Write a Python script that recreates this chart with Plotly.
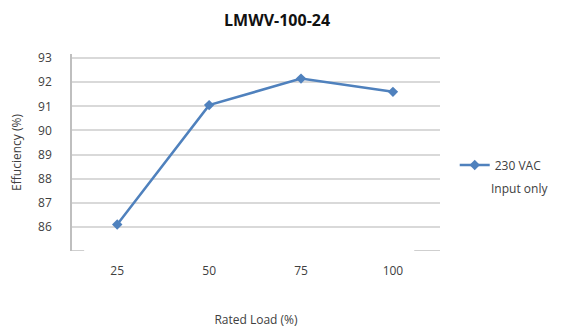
import plotly.graph_objects as go

load_pct = [25, 50, 75, 100]
efficiency = [86.1, 91.05, 92.15, 91.6]
series_name = "230 VAC"
series_note = "Input only"
y_ticks = [86, 87, 88, 89, 90, 91, 92, 93]
x_ticks = [25, 50, 75, 100]

FONT = "Open Sans, Lato, sans-serif"
TXT = "#404040"
GRID = "#D9D9D9"

fig = go.Figure()
fig.add_trace(go.Scatter(
    x=load_pct, y=efficiency, name=series_name, mode="lines+markers",
    line=dict(color="#4F81BD", width=2.5),
    marker=dict(symbol="diamond", size=8, color="#4F81BD"),
))

# the page adds an 8px body margin, so the figure is sized/offset to suit
fig.update_layout(
    width=556, height=325,
    margin=dict(l=64, r=124, t=46, b=82),
    paper_bgcolor="white", plot_bgcolor="white",
    font=dict(family=FONT, size=12, color=TXT),
    title=dict(text="<b>LMWV-100-24</b>", x=0.484, xanchor="center",
               y=0.962, yanchor="middle", automargin=False,
               font=dict(family=FONT, size=16, color="#111111")),
    showlegend=True,
    legend=dict(x=1.04, y=0.51, xanchor="left", yanchor="top",
                font=dict(size=12, color=TXT), bgcolor="rgba(0,0,0,0)",
                itemwidth=30),
    xaxis=dict(range=[12.7, 112.8], tickvals=x_ticks,
               ticktext=[str(v) for v in x_ticks],
               showgrid=False, zeroline=False, showline=False,
               ticks="", ticklabelstandoff=11, automargin=False,
               title=dict(text="Rated Load (%)", standoff=37,
                          font=dict(size=12, color=TXT))),
    yaxis=dict(range=[85, 93.17], tickvals=y_ticks,
               showgrid=True, gridcolor=GRID, gridwidth=1.5,
               zeroline=False, showline=True, linecolor="#BFBFBF",
               linewidth=1.5, ticks="", ticklabelstandoff=16,
               automargin=False,
               title=dict(text="Effuciency (%)", standoff=27,
                          font=dict(size=12, color=TXT))),
)

fig.add_annotation(text=series_note, xref="paper", yref="paper",
                   x=1.133, y=0.315, xanchor="left", yanchor="middle",
                   showarrow=False, font=dict(size=12, color=TXT))

# short baseline stubs at the bottom of the plot area
fig.add_shape(type="line", xref="x domain", yref="y", x0=0, x1=0.033,
              y0=85, y1=85, line=dict(color="#BFBFBF", width=1.5))
fig.add_shape(type="line", xref="x domain", yref="y", x0=0.93, x1=1.0,
              y0=85, y1=85, line=dict(color="#BFBFBF", width=1.5))

fig.write_html("out.html")
